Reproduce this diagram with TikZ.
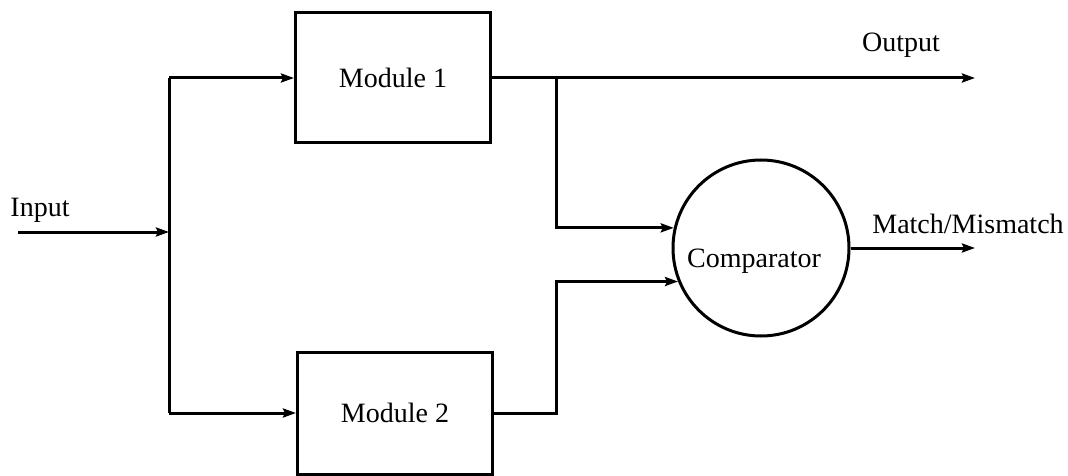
\documentclass[tikz,border=0pt]{standalone}
\usepackage{fontspec}
\setmainfont{Liberation Serif}
\usetikzlibrary{arrows.meta}
\begin{document}
\begin{tikzpicture}[x=1pt,y=-1pt,
  line width=3pt,
  wire/.style={line width=3pt},
  arr/.style={wire,-{Stealth[length=13pt,width=9pt,inset=2pt]}},
  modbox/.style={draw,line width=3pt,rectangle,minimum width=195pt,inner sep=0pt,font=\fontsize{28}{32}\selectfont},
  cmp/.style={draw,line width=3pt,circle,minimum size=176pt,inner sep=0pt,font=\fontsize{28}{32}\selectfont},
  lbl/.style={font=\fontsize{28}{32}\selectfont,inner sep=0pt}]
\useasboundingbox (0,0) rectangle (1068,476);
\node[modbox,minimum height=130pt] (m1) at (393,78) {Module 1};
\node[modbox,minimum height=122pt] (m2) at (395,413) {Module 2};
\node[cmp] (comp) at (761,248) {\raisebox{-19pt}[0pt][0pt]{Comparator}\hspace*{14pt}};
\node[lbl] (inlbl) at (40,210) {Input};
\node[lbl] (outlbl) at (901,45) {Output};
\node[lbl] (mmlbl) at (968,224) {Match/Mismatch};
\coordinate (in0) at (18,232);
\coordinate (sp) at (169,232);
\coordinate (sptop) at (169,78);
\coordinate (spbot) at (169,413);
\coordinate (j1) at (556,78);
\coordinate (j2) at (556,413);
\coordinate (outend) at (975,78);
\coordinate (mmend) at (975,248);
\draw[arr] (in0) -- (sp);
\draw[wire] (sptop) -- (spbot);
\draw[arr] (sptop) -- (m1.west);
\draw[arr] (spbot) -- (m2.west);
\draw[arr] (m1.east) -- (outend);
\draw[arr] (j1) |- (comp.167.1);
\draw[arr] (m2.east) -- (j2) |- (comp.202.3);
\draw[arr] (comp.east) -- (mmend);
\end{tikzpicture}
\end{document}
